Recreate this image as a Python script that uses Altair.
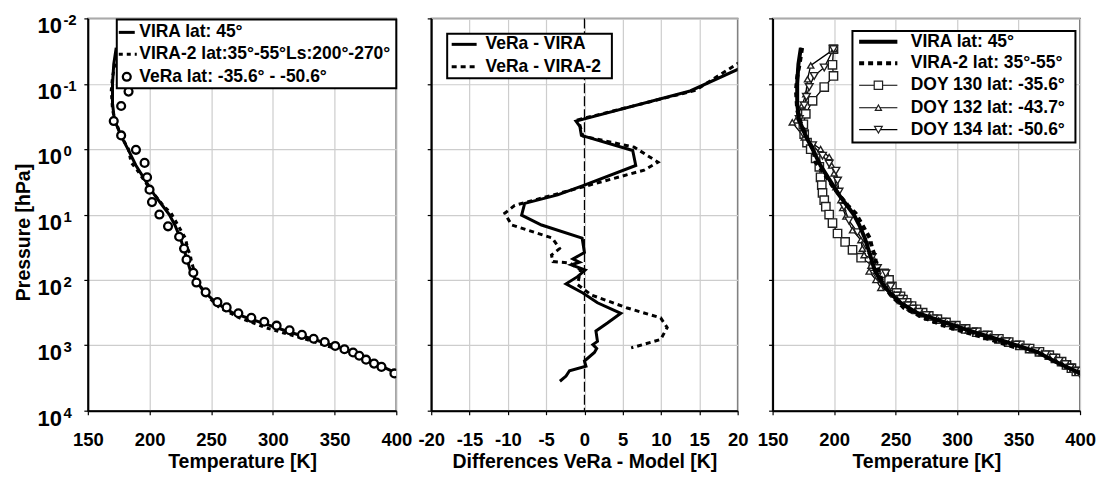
import altair as alt
import pandas as pd

FONT = "Liberation Sans"

# ---------------------------------------------------------------------------
# Temperature profiles: log10(pressure / hPa) and temperature [K]
# ---------------------------------------------------------------------------
vira_logp = [-1.55, -1.3, -1.0, -0.7, -0.45, -0.2, 0.0, 0.25, 0.55, 0.7, 0.85,
             1.0, 1.16, 1.36, 1.6, 1.85, 2.05, 2.2, 2.35, 2.5, 2.65, 2.8, 2.95,
             3.1, 3.25, 3.4, 3.5]
vira_t = [173, 171, 170, 170, 171.5, 177, 182.5, 189, 199, 204, 210,
          216, 220.5, 225, 229, 233, 239, 245.5, 254, 267, 290, 314, 340,
          365, 380, 397, 408]

vira2_logp = [-1.55, -1.31, -1.1, -0.9, -0.6, -0.45, -0.2, 0.0, 0.2, 0.32, 0.6,
              0.86, 0.98, 1.16, 1.36, 1.52, 1.62, 1.72, 1.85, 2.07, 2.23, 2.43,
              2.58, 2.73, 2.91, 3.04]
vira2_t = [174, 172, 170, 169, 170, 172, 177, 183, 185, 190, 200,
           211, 217.5, 223, 229, 231, 233, 234, 236, 240, 246, 257,
           273, 294, 327, 349]

vera_logp = [-1.53, -1.3, -1.1, -0.88, -0.66, -0.43, -0.21, 0.01, 0.21, 0.43,
             0.62, 0.81, 1.0, 1.18, 1.34, 1.52, 1.69, 1.89, 2.04, 2.19, 2.34,
             2.42, 2.51, 2.58, 2.64, 2.70, 2.77, 2.84, 2.90, 2.95, 3.01, 3.06,
             3.11, 3.16, 3.22, 3.28, 3.33, 3.43]
vera_t = [200, 196, 190, 183, 177, 171, 177, 189, 196, 198,
          200, 202, 208, 215, 224, 228, 230, 235.5, 238, 245.5, 255,
          262.5, 272, 282.5, 293, 303, 313.5, 323.5, 333, 342, 350.5, 358,
          365, 370, 375.5, 382, 388, 398.5]

# ---------------------------------------------------------------------------
# Differences VeRa - model [K]
# ---------------------------------------------------------------------------
dvira_logp = [-1.3, -1.22, -0.89, -0.43, -0.35, -0.21, 0.02, 0.25, 0.55, 0.70,
              0.83, 1.01, 1.16, 1.36, 1.58, 1.68, 1.73, 1.77, 1.85, 1.95, 2.06,
              2.20, 2.35, 2.51, 2.66, 2.78, 2.94, 2.99, 3.05, 3.11, 3.24, 3.32,
              3.39, 3.47, 3.55]
dvira = [21.5, 20, 13.8, -1.1, -0.6, -0.4, 6.3, 6.7, 0, -3.5,
         -7.8, -8.2, -5.6, -0.3, 0, -1.5, -0.65, -1.7, 0.1, -0.9, -2.4,
         -0.2, 1.7, 4.75, 3.0, 1.5, 1.7, 1.1, 1.6, 1.3, 0, 0.2,
         -1.95, -2.4, -3.2]

dvira2_logp = [-1.4, -1.31, -0.9, -0.45, -0.2, -0.03, 0.2, 0.32, 0.6, 0.86,
               0.98, 1.16, 1.36, 1.52, 1.62, 1.72, 1.74, 1.85, 2.07, 2.23,
               2.43, 2.58, 2.73, 2.91, 3.04]
dvira2 = [21.5, 20, 14.5, -0.8, -0.2, 6.5, 9.6, 7.8, -0.9, -9.1,
          -10.4, -9.5, -4.2, -3.25, -4.3, -4.1, -1.95, -0.5, -0.9, 0.9,
          5.6, 9.95, 10.8, 9.95, 6.1]

# ---------------------------------------------------------------------------
# Individual VeRa profiles (DOY 130, 132, 134)
# ---------------------------------------------------------------------------
doy130_logp = [-1.53, -1.29, -1.12, -0.95, -0.74, -0.54, -0.38, -0.23, -0.1, 0.0,
               0.14, 0.27, 0.43, 0.55, 0.67, 0.78, 0.88, 1.0, 1.13, 1.29, 1.42,
               1.54, 1.66, 1.79, 1.9, 2.0, 2.1,
               2.20, 2.25, 2.30, 2.35, 2.40, 2.45, 2.50, 2.55, 2.60, 2.65, 2.70,
               2.75, 2.80, 2.85, 2.90, 2.95, 3.00, 3.05, 3.10, 3.15, 3.20, 3.25,
               3.30, 3.35, 3.40]
doy130_t = [199.5, 198.7, 199.5, 192, 182.5, 177, 175, 175.7, 178, 181,
            185, 188, 189, 190, 190.6, 192, 193.3, 196, 198.7, 202.8, 209,
            215, 222, 232, 240.7, 244.7, 247,
            251, 254, 256, 259, 263, 267, 272, 277, 284, 291, 299,
            307, 316, 325, 334, 342, 351, 359, 367, 375, 380, 385,
            389, 393, 397]

doy132_logp = [-1.53, -1.28, -1.07, -0.84, -0.67, -0.44, -0.41, -0.18, 0.0, 0.12,
               0.25, 0.37, 0.58, 0.78, 0.9, 1.03, 1.24, 1.39, 1.52, 1.62, 1.69,
               1.78, 1.87, 2.0, 2.12,
               2.22, 2.27, 2.32, 2.37, 2.42, 2.47, 2.52, 2.57, 2.62, 2.67, 2.72,
               2.77, 2.82, 2.87, 2.92, 2.97, 3.02, 3.07, 3.12, 3.17, 3.22, 3.27,
               3.32, 3.37, 3.42]
doy132_t = [200, 181, 178.4, 177, 174, 169, 166, 175.7, 189, 196,
            198, 200, 201.5, 205.5, 207, 209.6, 215, 221.8, 223, 224.4, 232.5,
            230, 228.5, 234, 238,
            249, 252, 254, 258, 262, 267, 272, 278, 285, 292, 300,
            309, 318, 327, 336, 345, 353, 361, 369, 376, 381, 386,
            390, 394, 398]

doy134_logp = [-1.53, -1.25, -1.12, -0.95, -0.8, -0.67, -0.46, -0.23, -0.06, 0.1,
               0.22, 0.33, 0.48, 0.65, 0.88, 1.09, 1.27, 1.47, 1.65, 1.82, 1.9,
               1.95, 2.1,
               2.24, 2.29, 2.34, 2.39, 2.44, 2.49, 2.54, 2.59, 2.64, 2.69, 2.74,
               2.79, 2.84, 2.89, 2.94, 2.99, 3.04, 3.09, 3.14, 3.19, 3.24, 3.29,
               3.34, 3.39, 3.44]
doy134_t = [199.5, 192, 183.8, 179.8, 177.5, 175.7, 171.7, 175, 182.5, 190.6,
            196, 201.5, 202.8, 204, 208, 212, 219, 225.8, 231, 235.2, 242,
            235, 246,
            251, 254, 256, 260, 264, 269, 275, 281, 288, 296, 304,
            313, 322, 331, 340, 348, 356, 364, 372, 378, 383, 388,
            392, 396, 400]

# Axis tick values
decades = [-2, -1, 0, 1, 2, 3, 4]
t_ticks = [150, 200, 250, 300, 350, 400]
d_ticks = [-20, -15, -10, -5, 0, 5, 10, 15, 20]

H = 393


def profile(logp, vals, col):
    return pd.DataFrame({"p": [10.0 ** v for v in logp], col: vals,
                         "i": list(range(len(vals)))})


ONE = pd.DataFrame({"k": [0]})
Y_SCALE = alt.Scale(type="log", domain=[0.01, 10000], reverse=True, nice=False)
P_VALUES = [10.0 ** d for d in decades]


def y_enc(title=None):
    return alt.Y("p:Q", scale=Y_SCALE,
                 axis=alt.Axis(values=P_VALUES, labels=False, title=title,
                               titlePadding=50, titleY=214, grid=True))


def temp_x():
    return alt.X("T:Q", scale=alt.Scale(domain=[150, 400], nice=False, zero=False),
                 axis=alt.Axis(values=t_ticks, title="Temperature [K]", grid=True))


D_AXIS = alt.Axis(values=d_ticks, title="Differences VeRa - Model [K]", grid=True,
                  labelExpr="'' + datum.value")
D_SCALE = alt.Scale(domain=[-20, 20], nice=False, zero=False)


def diff_x():
    return alt.X("D:Q", scale=D_SCALE, axis=D_AXIS)


def line(df, xenc, width, dash=None, ytitle=None):
    kw = dict(color="black", strokeWidth=width, clip=True, strokeCap="butt")
    if dash:
        kw["strokeDash"] = dash
    return alt.Chart(df).mark_line(**kw).encode(x=xenc, y=y_enc(ytitle),
                                                order="i:Q")


def markers(df, xenc, shape, size, stroke, sw, ytitle=None):
    return alt.Chart(df).mark_point(shape=shape, size=size, filled=True,
                                    fill="white", stroke=stroke, strokeWidth=sw,
                                    opacity=1, clip=True).encode(
        x=xenc, y=y_enc(ytitle))


# ----- hand-drawn legend pieces (pixel positions inside each panel) -----
def lg_box(x0, y0, x1, y1):
    return alt.Chart(ONE).mark_rect(fill="white", stroke="black",
                                    strokeWidth=2).encode(
        x=alt.value(x0), x2=alt.value(x1), y=alt.value(y0), y2=alt.value(y1))


def lg_text(x, y, label, size=17.5):
    return alt.Chart(ONE).mark_text(text=label, align="left", baseline="middle",
                                    font=FONT, fontWeight="bold", fontSize=size,
                                    color="black").encode(
        x=alt.value(x), y=alt.value(y))


def lg_line(x0, x1, y, width, dash=None):
    kw = dict(color="black", strokeWidth=width, strokeCap="butt")
    if dash:
        kw["strokeDash"] = dash
    return alt.Chart(ONE).mark_rule(**kw).encode(
        x=alt.value(x0), x2=alt.value(x1), y=alt.value(y))


def lg_marker(x, y, shape, size, stroke, sw):
    return alt.Chart(ONE).mark_point(shape=shape, size=size, filled=True,
                                     fill="white", stroke=stroke, strokeWidth=sw,
                                     opacity=1).encode(x=alt.value(x), y=alt.value(y))


vira = profile(vira_logp, vira_t, "T")
vira2 = profile(vira2_logp, vira2_t, "T")
vera = profile(vera_logp, vera_t, "T")
d1 = profile(dvira_logp, dvira, "D")
d2 = profile(dvira2_logp, dvira2, "D")
doy130 = profile(doy130_logp, doy130_t, "T")
doy132 = profile(doy132_logp, doy132_t, "T")
doy134 = profile(doy134_logp, doy134_t, "T")

# Decade labels of the pressure axis: "10" with a raised exponent
P1T = "Pressure [hPa]"
dec_df = pd.DataFrame({"p": P_VALUES, "base": ["10"] * len(decades),
                       "exp": [str(d) for d in decades]})
ylab_base = alt.Chart(dec_df).mark_text(
    align="right", baseline="alphabetic", dy=15, font=FONT, fontWeight="bold",
    fontSize=22, color="black").encode(x=alt.value(-26), y=y_enc(P1T),
                                       text="base:N")
ylab_exp = alt.Chart(dec_df).mark_text(
    align="left", baseline="alphabetic", dy=7, font=FONT, fontWeight="bold",
    fontSize=15, color="black").encode(x=alt.value(-24.5), y=y_enc(P1T),
                                       text="exp:N")

# ----- panel 1: mean profiles -----
panel1 = alt.layer(
    line(vira2, temp_x(), 3, [4, 4], P1T),
    line(vira, temp_x(), 3, None, P1T),
    markers(vera, temp_x(), "circle", 62, "black", 2.3, P1T),
    lg_box(29, 1, 309, 70),
    lg_line(31, 47, 14, 3),
    lg_line(31, 49, 36, 3, [4, 4]),
    lg_marker(39, 58.5, "circle", 62, "black", 2.3),
    lg_text(51.5, 14, "VIRA lat: 45°"),
    lg_text(51.5, 36, "VIRA-2 lat:35°-55°Ls:200°-270°"),
    lg_text(51.5, 58.5, "VeRa lat: -35.6° - -50.6°"),
    ylab_base,
    ylab_exp,
).properties(width=309, height=H)

# ----- panel 2: differences -----
zero_rule = alt.Chart(ONE).mark_rule(color="black", strokeWidth=1.2,
                                     strokeDash=[10, 3]).encode(
    x=alt.X(datum=0, scale=D_SCALE, axis=D_AXIS))
panel2 = alt.layer(
    zero_rule,
    line(d2, diff_x(), 3, [5, 4]),
    line(d1, diff_x(), 3),
    lg_box(16, 15.5, 181, 60),
    lg_line(20.5, 45.5, 26, 3),
    lg_line(20.5, 45.5, 48.5, 3, [5, 4]),
    lg_text(54.5, 26, "VeRa - VIRA"),
    lg_text(54.5, 48.5, "VeRa - VIRA-2"),
).properties(width=307, height=H)

# ----- panel 3: individual profiles -----
MK = "#202020"
panel3 = alt.layer(
    line(doy130, temp_x(), 1.3),
    line(doy132, temp_x(), 1.3),
    line(doy134, temp_x(), 1.3),
    markers(doy130, temp_x(), "square", 70, MK, 1.4),
    markers(doy132, temp_x(), "triangle-up", 38, MK, 1.4),
    markers(doy134, temp_x(), "triangle-down", 60, MK, 1.4),
    line(vira2, temp_x(), 4, [5, 4]),
    line(vira, temp_x(), 4),
    lg_box(80, 12.7, 303.4, 124.3),
    lg_line(86.7, 125, 23.5, 4),
    lg_line(86.7, 125, 45, 4, [5, 4]),
    lg_line(86.7, 125, 67, 1.2),
    lg_line(86.7, 125, 89.5, 1.2),
    lg_line(86.7, 125, 111.5, 1.2),
    lg_marker(106, 67, "square", 70, MK, 1.2),
    lg_marker(106, 89.5, "triangle-up", 38, MK, 1.2),
    lg_marker(106, 111.5, "triangle-down", 60, MK, 1.2),
    lg_text(138.4, 23.5, "VIRA lat: 45°"),
    lg_text(138.4, 45, "VIRA-2 lat: 35°-55°"),
    lg_text(138.4, 67, "DOY 130 lat: -35.6°"),
    lg_text(138.4, 89.5, "DOY 132 lat: -43.7°"),
    lg_text(138.4, 111.5, "DOY 134 lat: -50.6°"),
).properties(width=308, height=H)

chart = alt.hconcat(
    panel1, panel2, panel3, spacing=35, bounds="flush",
).properties(
    padding={"left": 12, "top": 12, "right": 0, "bottom": 0},
    background="white",
).configure_view(
    stroke="#444444", strokeWidth=1.5,
).configure_axis(
    domainColor="black", domainWidth=2, tickColor="black", tickSize=4,
    tickWidth=1.2, gridColor="#cdcdcd", gridWidth=1.2,
    labelFont=FONT, labelFontWeight="bold", labelFontSize=18.5, labelColor="black",
    titleFont=FONT, titleFontWeight="bold", titleFontSize=19.5, titleColor="black",
    labelFlush=False, labelOverlap=False,
).configure_axisX(
    labelPadding=16, titlePadding=3,
)

chart.save("out.html", embed_options={"renderer": "svg", "actions": False})
